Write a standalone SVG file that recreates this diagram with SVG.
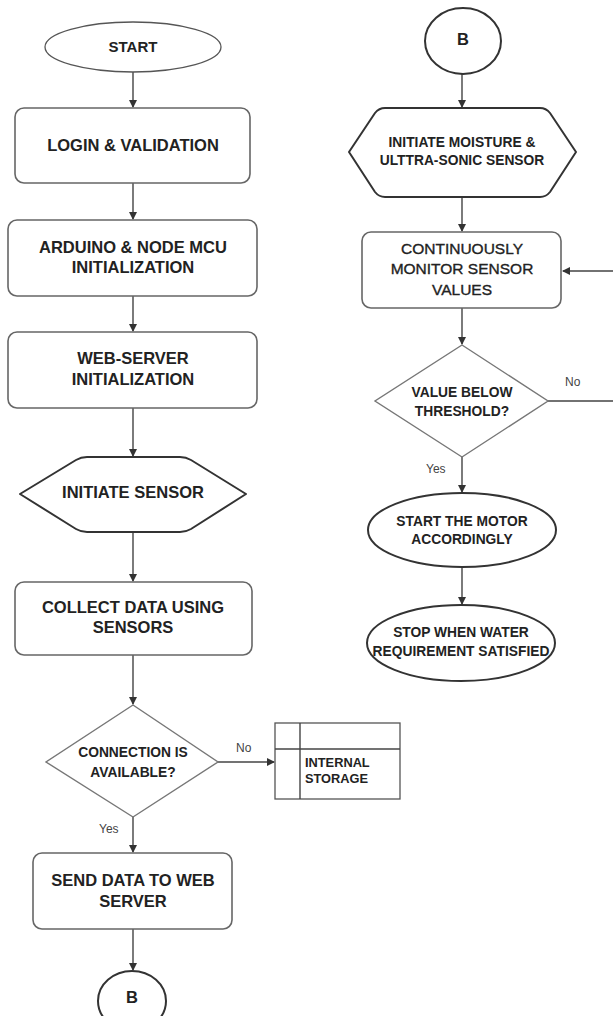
<svg xmlns="http://www.w3.org/2000/svg" width="613" height="1016" viewBox="0 0 613 1016">
<style>
.bg{fill:#ffffff}
.box{fill:#ffffff;stroke:#666;stroke-width:1.6}
.term{fill:#ffffff;stroke:#333;stroke-width:2}
.thin{fill:#ffffff;stroke:#555;stroke-width:1.3}
.dec{fill:#ffffff;stroke:#777;stroke-width:1.4}
.conn{fill:none;stroke:#444;stroke-width:1.4}
.t{font-family:"Liberation Sans",Arial,sans-serif;font-weight:bold;fill:#222;text-anchor:middle}
.l16{font-size:16.5px}
.l15{font-size:15px}
.l14{font-size:13.8px}
.l13{font-size:12.8px}
.r{font-family:"Liberation Sans",Arial,sans-serif;font-size:15.5px;fill:#222;stroke:#222;stroke-width:0.35;text-anchor:middle}
.lab{font-family:"Liberation Sans",Arial,sans-serif;font-size:12px;fill:#444}
</style>
<defs>
<marker id="arr" markerWidth="8" markerHeight="8" refX="7" refY="4" orient="auto" markerUnits="userSpaceOnUse">
<path d="M0,0 L8,4 L0,8 Z" fill="#333"/>
</marker>
</defs>
<rect class="bg" x="0" y="0" width="613" height="1016"/>

<g id="connectors">
<line class="conn" x1="133" y1="72" x2="133" y2="107" marker-end="url(#arr)"/>
<line class="conn" x1="133" y1="183" x2="133" y2="219" marker-end="url(#arr)"/>
<line class="conn" x1="133" y1="296" x2="133" y2="331" marker-end="url(#arr)"/>
<line class="conn" x1="133" y1="408" x2="133" y2="456" marker-end="url(#arr)"/>
<line class="conn" x1="133" y1="532" x2="133" y2="581" marker-end="url(#arr)"/>
<line class="conn" x1="133" y1="655" x2="133" y2="704" marker-end="url(#arr)"/>
<line class="conn" x1="218" y1="762" x2="274" y2="762" marker-end="url(#arr)"/>
<line class="conn" x1="133" y1="817" x2="133" y2="852" marker-end="url(#arr)"/>
<line class="conn" x1="133" y1="929" x2="133" y2="970" marker-end="url(#arr)"/>
<line class="conn" x1="462" y1="73" x2="462" y2="107" marker-end="url(#arr)"/>
<line class="conn" x1="462" y1="197" x2="462" y2="231" marker-end="url(#arr)"/>
<line class="conn" x1="462" y1="308" x2="462" y2="344" marker-end="url(#arr)"/>
<path class="conn" d="M548,401 H625 V271 H563" marker-end="url(#arr)"/>
<line class="conn" x1="462" y1="457" x2="462" y2="492" marker-end="url(#arr)"/>
<line class="conn" x1="462" y1="568" x2="462" y2="604" marker-end="url(#arr)"/>
<text class="lab" x="236" y="752">No</text>
<text class="lab" x="99" y="833">Yes</text>
<text class="lab" x="565" y="386">No</text>
<text class="lab" x="426" y="473">Yes</text>
</g>

<g id="start">
<ellipse class="thin" cx="133" cy="47" rx="88" ry="25"/>
<text class="t l15" x="133" y="52">START</text>
</g>

<g id="login">
<rect class="box" x="15" y="108" width="235" height="75" rx="9"/>
<text class="t l16" x="133" y="151">LOGIN &amp; VALIDATION</text>
</g>

<g id="arduino">
<rect class="box" x="8" y="220" width="249" height="76" rx="9"/>
<text class="t l16" x="133" y="253">ARDUINO &amp; NODE MCU</text>
<text class="t l16" x="133" y="273">INITIALIZATION</text>
</g>

<g id="webserver">
<rect class="box" x="8" y="332" width="249" height="76" rx="9"/>
<text class="t l16" x="133" y="364">WEB-SERVER</text>
<text class="t l16" x="133" y="385">INITIALIZATION</text>
</g>

<g id="initiate-sensor">
<path class="term" stroke-linejoin="round" d="M20,494 L76,460 Q81,457 87,457 L180,457 Q186,457 191,460 L246,494 L191,529 Q186,532 180,532 L87,532 Q81,532 76,529 Z"/>
<text class="t l16" x="133" y="498">INITIATE SENSOR</text>
</g>

<g id="collect">
<rect class="box" x="15" y="582" width="237" height="73" rx="9"/>
<text class="t l16" x="133" y="613">COLLECT DATA USING</text>
<text class="t l16" x="133" y="633">SENSORS</text>
</g>

<g id="connection">
<polygon class="dec" points="133,705 218,762 133,817 46,762"/>
<text class="t l14" x="133" y="757">CONNECTION IS</text>
<text class="t l14" x="133" y="777">AVAILABLE?</text>
</g>

<g id="internal-storage">
<rect class="thin" x="275" y="723" width="125" height="76"/>
<line class="conn" x1="300" y1="723" x2="300" y2="799"/>
<line class="conn" x1="275" y1="749" x2="400" y2="749"/>
<text class="t l13" x="305" y="767" style="text-anchor:start">INTERNAL</text>
<text class="t l13" x="305" y="783" style="text-anchor:start">STORAGE</text>
</g>

<g id="send">
<rect class="box" x="33" y="853" width="199" height="76" rx="9"/>
<text class="t l16" x="133" y="886">SEND DATA TO WEB</text>
<text class="t l16" x="133" y="907">SERVER</text>
</g>

<g id="b-bottom">
<ellipse class="term" cx="132" cy="1001" rx="34" ry="30"/>
<text class="t l16" x="132" y="1003">B</text>
</g>

<g id="b-top">
<ellipse class="term" cx="463" cy="41" rx="38" ry="33"/>
<text class="t l16" x="463" y="45">B</text>
</g>

<g id="initiate-moisture">
<path class="term" stroke-linejoin="round" d="M349,152 L375,113 Q379,108 385,108 L540,108 Q546,108 550,113 L576,152 L550,192 Q546,197 540,197 L385,197 Q379,197 375,192 Z"/>
<text class="t l14" x="462" y="147">INITIATE MOISTURE &amp;</text>
<text class="t l14" x="462" y="165">ULTTRA-SONIC SENSOR</text>
</g>

<g id="monitor">
<rect class="box" x="362" y="232" width="199" height="76" rx="9"/>
<text class="r" x="462" y="254">CONTINUOUSLY</text>
<text class="r" x="462" y="274">MONITOR SENSOR</text>
<text class="r" x="462" y="295">VALUES</text>
</g>

<g id="threshold">
<polygon class="dec" points="462,345 548,401 462,457 375,401"/>
<text class="t l14" x="462" y="397">VALUE BELOW</text>
<text class="t l14" x="462" y="416">THRESHOLD?</text>
</g>

<g id="start-motor">
<ellipse class="term" cx="462" cy="530" rx="94" ry="37"/>
<text class="t l14" x="462" y="526">START THE MOTOR</text>
<text class="t l14" x="462" y="544">ACCORDINGLY</text>
</g>

<g id="stop">
<ellipse class="term" cx="461" cy="643" rx="94" ry="38"/>
<text class="t l14" x="461" y="637">STOP WHEN WATER</text>
<text class="t l14" x="461" y="656">REQUIREMENT SATISFIED</text>
</g>
</svg>
